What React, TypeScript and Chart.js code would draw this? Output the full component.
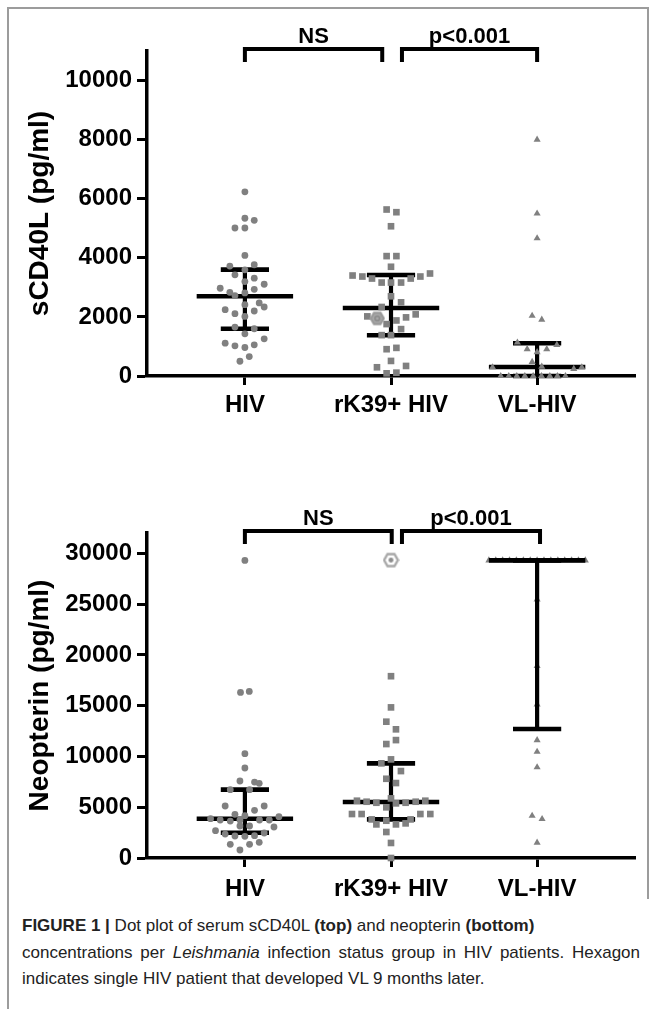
import React, { useEffect, useRef } from "react";
import { Chart, registerables } from "chart.js";

Chart.register(...registerables);

const FAM = "'Liberation Sans', Arial, Helvetica, sans-serif";

// ---------- shared ----------
const categories = ["HIV", "rK39+ HIV", "VL-HIV"];
const categoryTicks = [0, 1, 2];

// ---------- top panel: sCD40L (pg/ml) ----------
const topYTicks = [0, 2000, 4000, 6000, 8000, 10000];
const topHIV = [6235, 5340, 5270, 5010, 5010, 4080, 3720, 3765, 3595, 3425, 3310, 3197, 3106, 2970, 2935, 2833, 2721, 2812, 2415, 2472, 2336, 2245, 2200, 2109, 2018, 1655, 1600, 1429, 1258, 1111, 1020, 964, 1054, 658, 499];
const topHIVJitter = [0, 0, 0.064, -0.068, 0, 0, -0.103, 0.064, 0, -0.068, 0.064, 0, 0.132, -0.169, 0.064, -0.103, -0.068, 0, 0, 0.098, 0.132, -0.135, 0.064, -0.068, 0, -0.068, 0.064, 0, 0.132, -0.135, -0.068, 0, 0.064, 0.03, -0.034];
const topRK = [5635, 5544, 5068, 4058, 4058, 3697, 3401, 3367, 3299, 3163, 3163, 3163, 3299, 3367, 3469, 2698, 2494, 2336, 2018, 2086, 1984, 1757, 1880, 1587, 1383, 1383, 907, 952, 510, 340, 295, 90, 113];
const topRKJitter = [-0.03, 0.037, 0, -0.03, 0.037, 0, -0.263, -0.196, -0.13, -0.064, 0, 0.069, 0.135, 0.201, 0.267, 0, 0.069, -0.064, -0.162, 0.169, 0.103, -0.03, 0.037, 0.069, -0.064, 0, -0.03, 0.037, 0, 0.103, -0.096, -0.03, 0.037];
const topVL = [8000, 5500, 4660, 2040, 1905, 1134, 1054, 907, 907, 805, 476, 317, 295, 238, 295, 0, 0, 0, 0, 0, 0, 0, 0, 0];
const topVLJitter = [0, 0, 0, -0.034, 0.032, -0.135, 0.135, -0.068, 0.066, 0, -0.034, 0.032, -0.305, 0.251, 0.306, -0.249, -0.194, -0.139, -0.084, -0.027, 0.03, 0.087, 0.139, 0.194];
const topHexValue = [1950];
const topHexJitter = [-0.094];
const topMedian = [2700, 2300, 306];
const topQ1 = [1600, 1380, 0];
const topQ3 = [3600, 3420, 1110];
const topBracketLabels = ["NS", "p<0.001"];
const topBracketFrom = [0, 1.075];
const topBracketTo = [0.94, 2.0];

// ---------- bottom panel: Neopterin (pg/ml) ----------
const botYTicks = [0, 5000, 10000, 15000, 20000, 25000, 30000];
const botHIV = [29300, 16300, 16400, 10270, 8860, 7580, 7480, 7350, 6730, 6730, 5120, 5120, 4690, 4300, 4170, 3870, 3740, 3640, 3740, 3740, 3740, 4070, 2690, 3150, 3150, 3050, 2360, 2165, 2130, 2200, 2460, 1350, 1350, 1545, 790];
const botHIVJitter = [0, -0.03, 0.03, 0, 0, -0.034, 0.066, 0.098, -0.1, 0.032, -0.135, 0.132, 0.066, -0.068, 0, -0.235, -0.169, -0.1, -0.034, 0.1, 0.167, 0.233, -0.201, -0.034, 0.032, 0.199, -0.135, -0.068, 0, 0.066, 0.132, -0.1, 0.032, 0.098, -0.034];
const botRK = [17900, 14830, 13420, 12670, 11610, 11220, 9710, 9320, 8560, 7800, 7380, 5640, 5540, 5440, 4990, 5380, 5440, 5540, 5640, 5870, 4330, 4330, 4330, 4330, 3800, 3310, 3670, 3310, 3410, 3800, 2560, 1480, 0];
const botRKJitter = [0, 0, -0.032, 0.034, 0.034, -0.032, 0, -0.066, 0.068, -0.032, 0.034, -0.233, -0.167, -0.1, -0.032, 0.034, 0.1, 0.169, 0.235, 0, -0.267, -0.201, 0.201, 0.269, -0.132, -0.1, -0.032, 0.034, 0.1, 0.134, -0.032, 0, 0];
const botVL = [29300, 29300, 29300, 29300, 29300, 29300, 29300, 29300, 29300, 29300, 29300, 29300, 29300, 29300, 29300, 25460, 18900, 15130, 11610, 10460, 8930, 4160, 3840, 1510];
const botVLJitter = [-0.33, -0.283, -0.236, -0.189, -0.142, -0.094, -0.047, 0, 0.047, 0.094, 0.142, 0.189, 0.236, 0.283, 0.33, 0, 0, 0, 0, 0, 0, -0.034, 0.034, 0];
const botHexValue = [29330];
const botHexJitter = [0];
const botMedian = [3870, 5510, 29300];
const botQ1 = [2490, 3800, 12700];
const botQ3 = [6730, 9320, 29300];
const botBracketLabels = ["NS", "p<0.001"];
const botBracketFrom = [0, 1.075];
const botBracketTo = [1.005, 2.02];

const POINT_COLOR = "#808080";
const pointStyles = ["circle", "rect", "triangle"];
const pointRadii = [3.4, 4.7, 4.1];

function makeHex(size: number, fill: string, stroke: string, inner: string, filledDot: boolean) {
  const c = document.createElement("canvas");
  c.width = size;
  c.height = size;
  const g = c.getContext("2d") as CanvasRenderingContext2D;
  const m = size / 2;
  const r = size / 2 - 1.6;
  g.beginPath();
  for (let k = 0; k < 6; k++) {
    const a = (Math.PI / 3) * k;
    const px = m + r * Math.cos(a);
    const py = m + r * Math.sin(a);
    if (k === 0) g.moveTo(px, py);
    else g.lineTo(px, py);
  }
  g.closePath();
  g.fillStyle = fill;
  g.fill();
  g.lineWidth = 2.4;
  g.strokeStyle = stroke;
  g.stroke();
  g.beginPath();
  g.arc(m, m, r * 0.36, 0, Math.PI * 2);
  if (filledDot) {
    g.fillStyle = inner;
    g.fill();
  } else {
    g.lineWidth = 1.6;
    g.strokeStyle = inner;
    g.stroke();
  }
  return c;
}

type PanelProps = {
  top: number;
  height: number;
  padTop: number;
  xAxisHeight: number;
  xLabelPad: number;
  yMax: number;
  yTicks: number[];
  title: string;
  groups: number[][];
  jitters: number[][];
  hexValue: number[];
  hexJitter: number[];
  hexGroup: number;
  hexKind: "top" | "bottom";
  median: number[];
  q1: number[];
  q3: number[];
  barsOver: boolean[];
  bracketLabels: string[];
  bracketFrom: number[];
  bracketTo: number[];
};

function Panel(p: PanelProps) {
  const ref = useRef<HTMLCanvasElement | null>(null);
  useEffect(() => {
    const canvas = ref.current;
    if (!canvas) return;
    const hex =
      p.hexKind === "top"
        ? makeHex(16, "#a9a9a9", "#9a9a9a", "#8a8a8a", false)
        : makeHex(17, "#ffffff", "#a8a8a8", "#8c8c8c", true);

    const drawBars = (chart: any, over: boolean) => {
      const { ctx, scales } = chart;
      const xs = scales.x;
      const ys = scales.y;
      ctx.save();
      ctx.strokeStyle = "#000";
      ctx.lineCap = "butt";
      p.median.forEach((m, i) => {
        if (p.barsOver[i] !== over) return;
        const xc = xs.getPixelForValue(i);
        const yMed = ys.getPixelForValue(m);
        const yq1 = ys.getPixelForValue(p.q1[i]);
        const yq3 = ys.getPixelForValue(p.q3[i]);
        ctx.lineWidth = 4.2;
        ctx.beginPath();
        ctx.moveTo(xc, yq1);
        ctx.lineTo(xc, yq3);
        ctx.stroke();
        ctx.lineWidth = 4.6;
        ctx.beginPath();
        ctx.moveTo(xs.getPixelForValue(i - 0.33), yMed);
        ctx.lineTo(xs.getPixelForValue(i + 0.33), yMed);
        ctx.stroke();
        [yq1, yq3].forEach((yy) => {
          ctx.beginPath();
          ctx.moveTo(xs.getPixelForValue(i - 0.165), yy);
          ctx.lineTo(xs.getPixelForValue(i + 0.165), yy);
          ctx.stroke();
        });
      });
      ctx.restore();
    };

    const summaryPlugin = {
      id: "summaryBars",
      beforeDatasetsDraw(chart: any) {
        drawBars(chart, false);
      },
      afterDatasetsDraw(chart: any) {
        drawBars(chart, true);
      },
    };

    const bracketPlugin = {
      id: "brackets",
      afterDraw(chart: any) {
        const { ctx, chartArea, scales } = chart;
        const xs = scales.x;
        ctx.save();
        ctx.strokeStyle = "#000";
        ctx.fillStyle = "#000";
        ctx.lineWidth = 4;
        ctx.lineJoin = "miter";
        ctx.lineCap = "butt";
        p.bracketLabels.forEach((lab, i) => {
          const x0 = xs.getPixelForValue(p.bracketFrom[i]);
          const x1 = xs.getPixelForValue(p.bracketTo[i]);
          const yTop = chartArea.top - 2;
          const yLeg = chartArea.top + 11;
          ctx.beginPath();
          ctx.moveTo(x0, yLeg);
          ctx.lineTo(x0, yTop);
          ctx.lineTo(x1, yTop);
          ctx.lineTo(x1, yLeg);
          ctx.stroke();
          ctx.font = `bold 22px ${FAM}`;
          ctx.textAlign = "center";
          ctx.textBaseline = "alphabetic";
          ctx.fillText(lab, (x0 + x1) / 2, chartArea.top - 8);
        });
        ctx.restore();
      },
    };

    const datasets: any[] = p.groups.map((vals, gi) => ({
      label: categories[gi],
      data: vals.map((v, k) => ({ x: gi + p.jitters[gi][k], y: v })),
      pointStyle: pointStyles[gi],
      pointRadius: pointRadii[gi],
      pointBackgroundColor: POINT_COLOR,
      pointBorderColor: POINT_COLOR,
      pointBorderWidth: 0,
      showLine: false,
      clip: false,
      order: 2,
    }));
    datasets.push({
      label: "hexagon",
      data: p.hexValue.map((v, k) => ({ x: p.hexGroup + p.hexJitter[k], y: v })),
      pointStyle: hex,
      pointRadius: 8,
      pointBorderWidth: 0,
      showLine: false,
      clip: false,
      order: 1,
    });

    const tickFont = { family: FAM, size: 24, weight: "bold" as const };

    const chart = new Chart(canvas, {
      type: "scatter",
      data: { datasets },
      options: {
        animation: false,
        responsive: true,
        maintainAspectRatio: false,
        events: [],
        layout: { padding: { left: 0, right: 20, top: p.padTop, bottom: 0 } },
        plugins: {
          legend: { display: false },
          tooltip: { enabled: false },
        },
        scales: {
          x: {
            type: "linear",
            min: -0.67,
            max: 2.67,
            afterBuildTicks: (s: any) => {
              s.ticks = categoryTicks.map((v) => ({ value: v }));
            },
            afterFit: (s: any) => {
              s.height = p.xAxisHeight;
            },
            ticks: {
              callback: (v: any) => categories[Number(v)] ?? "",
              font: tickFont,
              color: "#000",
              padding: p.xLabelPad,
              maxRotation: 0,
              autoSkip: false,
            },
            grid: {
              drawOnChartArea: false,
              drawTicks: true,
              tickLength: 9,
              tickWidth: 3,
              tickColor: "#000",
              color: "#000",
            },
            border: { display: true, width: 3.5, color: "#000" },
          },
          y: {
            type: "linear",
            min: 0,
            max: p.yMax,
            afterBuildTicks: (s: any) => {
              s.ticks = p.yTicks.map((v) => ({ value: v }));
            },
            afterFit: (s: any) => {
              s.width = 147;
            },
            ticks: {
              callback: (v: any) => String(v),
              font: tickFont,
              color: "#000",
              padding: 5,
            },
            grid: {
              drawOnChartArea: false,
              drawTicks: true,
              tickLength: 10,
              tickWidth: 3,
              tickColor: "#000",
              color: "#000",
            },
            border: { display: true, width: 3.5, color: "#000" },
            title: {
              display: true,
              text: p.title,
              color: "#000",
              font: { family: FAM, size: 28, weight: "bold" },
              padding: { top: 23, bottom: 0 },
            },
          },
        },
      },
      plugins: [summaryPlugin, bracketPlugin],
    } as any);
    return () => chart.destroy();
  }, []);
  return (
    <div style={{ position: "absolute", left: 0, top: p.top, width: 655, height: p.height }}>
      <canvas ref={ref} />
    </div>
  );
}

export default function App() {
  const lineStyle: React.CSSProperties = { height: 26.5, whiteSpace: "nowrap" };
  return (
    <div style={{ position: "absolute", left: 0, top: 0, width: 655, height: 1009, background: "#fff", overflow: "hidden" }}>
      <div
        style={{
          position: "absolute",
          left: 7,
          top: 7,
          width: 638,
          height: 890,
          borderTop: "2px solid #9c9c9c",
          borderLeft: "2px solid #9c9c9c",
          borderRight: "2px solid #9c9c9c",
        }}
      />
      <div style={{ position: "absolute", left: 7, top: 897, height: 112, borderLeft: "2px solid #9c9c9c" }} />
      <Panel
        top={0}
        height={440}
        padTop={51}
        xAxisHeight={64}
        xLabelPad={6}
        yMax={11000}
        yTicks={topYTicks}
        title="sCD40L (pg/ml)"
        groups={[topHIV, topRK, topVL]}
        jitters={[topHIVJitter, topRKJitter, topVLJitter]}
        hexValue={topHexValue}
        hexJitter={topHexJitter}
        hexGroup={1}
        hexKind="top"
        median={topMedian}
        q1={topQ1}
        q3={topQ3}
        barsOver={[false, false, false]}
        bracketLabels={topBracketLabels}
        bracketFrom={topBracketFrom}
        bracketTo={topBracketTo}
      />
      <Panel
        top={480}
        height={430}
        padTop={53}
        xAxisHeight={52}
        xLabelPad={8}
        yMax={32000}
        yTicks={botYTicks}
        title="Neopterin (pg/ml)"
        groups={[botHIV, botRK, botVL]}
        jitters={[botHIVJitter, botRKJitter, botVLJitter]}
        hexValue={botHexValue}
        hexJitter={botHexJitter}
        hexGroup={1}
        hexKind="bottom"
        median={botMedian}
        q1={botQ1}
        q3={botQ3}
        barsOver={[false, false, true]}
        bracketLabels={botBracketLabels}
        bracketFrom={botBracketFrom}
        bracketTo={botBracketTo}
      />
      <div
        style={{
          position: "absolute",
          left: 22,
          top: 913,
          width: 618,
          fontFamily: FAM,
          fontSize: 17,
          lineHeight: "26.5px",
          color: "#222",
        }}
      >
        <div style={lineStyle}>
          <b>FIGURE 1 |</b> Dot plot of serum sCD40L <b>(top)</b> and neopterin <b>(bottom)</b>
        </div>
        <div style={{ ...lineStyle, whiteSpace: "normal", textAlign: "justify", textAlignLast: "justify" }}>
          concentrations per <i>Leishmania</i> infection status group in HIV patients. Hexagon
        </div>
        <div style={lineStyle}>indicates single HIV patient that developed VL 9 months later.</div>
      </div>
    </div>
  );
}
